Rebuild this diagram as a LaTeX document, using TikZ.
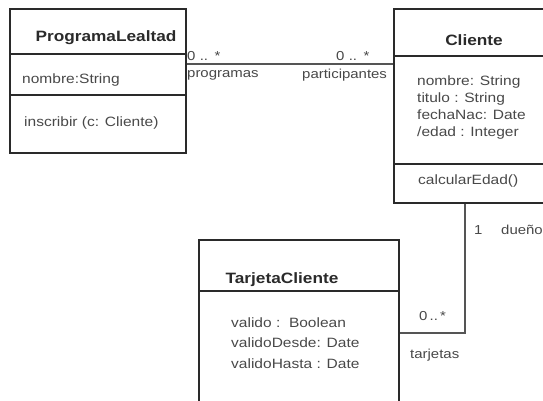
\documentclass[tikz,border=0pt]{standalone}
\usepackage{fontspec}
\setmainfont{Liberation Sans}[FakeStretch=1.15]
\usetikzlibrary{calc}
\definecolor{ink}{HTML}{2A2A2A}
\definecolor{txt}{HTML}{484848}
\tikzset{
  classbox/.style={draw=ink, line width=1.6pt, anchor=north west, inner sep=0pt},
  sepline/.style={draw=ink, line width=1.4pt},
  assoc/.style={draw=ink!80, line width=1.2pt},
  ctitle/.style={font=\fontsize{15}{17}\selectfont\bfseries, text=ink, inner sep=0pt},
  member/.style={font=\fontsize{13.5}{16.7}\selectfont, text=txt, anchor=west, inner sep=0pt, align=left},
  rolelbl/.style={font=\fontsize{13}{15}\selectfont, text=txt, anchor=west, inner sep=0pt}
}
\begin{document}
\begin{tikzpicture}[x=1pt,y=-1pt]
\useasboundingbox (0,0) rectangle (543,400);
\clip (0,0) rectangle (543,400);

% class boxes
\node[classbox, minimum width=176pt, minimum height=144pt] (prog) at (9,8) {};
\node[classbox, minimum width=165pt, minimum height=194pt] (cli) at (393,8) {};
\node[classbox, minimum width=200pt, minimum height=190pt] (tar) at (198,239) {};

% compartment separators
\draw[sepline] ($(prog.north west)+(0,46)$) -- ($(prog.north east)+(0,46)$);
\draw[sepline] ($(prog.north west)+(0,87)$) -- ($(prog.north east)+(0,87)$);
\draw[sepline] ($(cli.north west)+(0,48)$) -- ($(cli.north east)+(0,48)$);
\draw[sepline] ($(cli.north west)+(0,156)$) -- ($(cli.north east)+(0,156)$);
\draw[sepline] ($(tar.north west)+(0,52)$) -- ($(tar.north east)+(0,52)$);

% ProgramaLealtad
\node[ctitle] (progT) at (106,38) {ProgramaLealtad};
\node[member] (progA) at (22,80) {nombre:String};
\node[member] (progO) at (24,123) {inscribir (c: Cliente)};

% Cliente
\node[ctitle] (cliT) at (474,40) {Cliente};
\node[member] (cliA) at (417,107.5) {nombre: String\\titulo : String\\fechaNac: Date\\/edad : Integer};
\node[member] (cliO) at (418,181) {calcularEdad()};

% TarjetaCliente
\node[ctitle] (tarT) at (282,280) {TarjetaCliente};
\node[member, font=\fontsize{13.5}{20.5}\selectfont] (tarA) at (231,343) {valido :\ \ Boolean\\validoDesde: Date\\validoHasta : Date};

% association ProgramaLealtad -- Cliente
\draw[assoc] ($(prog.north east)+(0,56)$) -- ($(cli.north west)+(0,56)$);
\node[rolelbl] (m1) at (187,56) {0\,\,..\,\,\,*};
\node[rolelbl] (r1) at (187,75) {programas};
\node[rolelbl] (m2) at (336,56) {0\,\,..\,\,\,*};
\node[rolelbl] (r2) at (302,75) {participantes};

% association Cliente -- TarjetaCliente
\draw[assoc] ($(cli.south west)+(72,0)$) |- ($(tar.north east)+(0,94)$);
\node[rolelbl] (m3) at (474,230) {1};
\node[rolelbl] (r3) at (501,230) {dueño};
\node[rolelbl] (m4) at (419,316) {0\,..\,*};
\node[rolelbl] (r4) at (410,355) {tarjetas};
\end{tikzpicture}
\end{document}
